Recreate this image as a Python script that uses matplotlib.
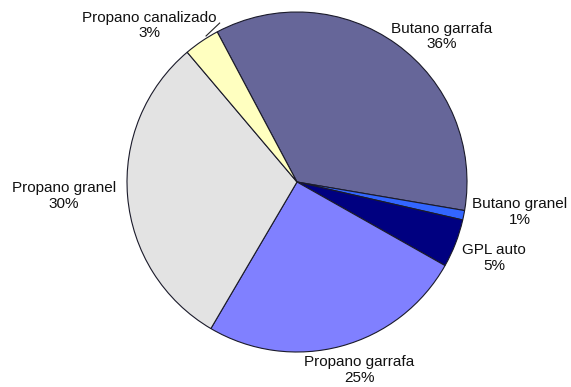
import matplotlib
matplotlib.use('Agg')
import matplotlib.pyplot as plt

labels = ['Butano garrafa', 'Butano granel', 'GPL auto', 'Propano garrafa',
          'Propano granel', 'Propano canalizado']
values = [35.5, 0.9, 4.6, 25.3, 30.4, 3.4]
pct_text = ['36%', '1%', '5%', '25%', '30%', '3%']
colors = ['#666699', '#3366FF', '#000080', '#8080FF', '#E3E3E3', '#FFFFC0']

# label centres (data units, pie radius = 1)
label_pos = [(0.85, 0.855), (1.31, -0.176), (1.16, -0.447), (0.365, -1.106),
             (-1.37, -0.082), (-0.87, 0.92)]

plt.rcParams['font.family'] = ['Liberation Sans', 'DejaVu Sans']

W, H = 571, 387
cx, cy, r = 297, 182, 170
fig = plt.figure(figsize=(W / 100, H / 100), dpi=100)
ax = fig.add_axes([(cx - r) / W, (H - cy - r) / H, 2 * r / W, 2 * r / H])
ax.pie(values, colors=colors, startangle=118, counterclock=False,
       wedgeprops=dict(edgecolor='#1a1a2a', linewidth=0.8))
ax.set_xlim(-1, 1)
ax.set_ylim(-1, 1)
ax.set_aspect('auto')
ax.axis('off')

for lab, pct, (x, y) in zip(labels, pct_text, label_pos):
    ax.text(x, y, lab + '\n' + pct, ha='center', va='center',
            fontsize=11, linespacing=1.15, color='#111111', clip_on=False)

# leader line for the small slice
ax.plot([-0.455, -0.535], [0.935, 0.859], color='#222222', lw=0.8, clip_on=False)

fig.savefig('out.png', dpi=100, facecolor='white')
